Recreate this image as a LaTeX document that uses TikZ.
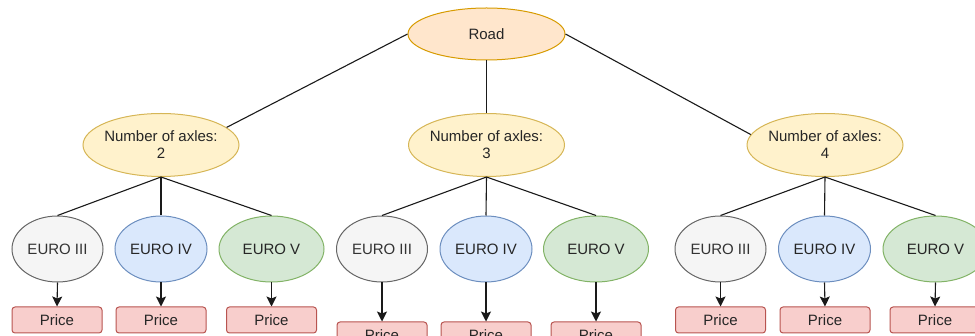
\documentclass[tikz,border=0pt]{standalone}
\usepackage{fontspec}
\setmainfont{Liberation Sans}
\usetikzlibrary{shapes.geometric,arrows.meta}
\definecolor{roadfill}{HTML}{FFE6CC}
\definecolor{roaddraw}{HTML}{D79B00}
\definecolor{axfill}{HTML}{FFF2CC}
\definecolor{axdraw}{HTML}{D6B656}
\definecolor{gfill}{HTML}{F5F5F5}
\definecolor{gdraw}{HTML}{666666}
\definecolor{gtext}{HTML}{333333}
\definecolor{bfill}{HTML}{DAE8FC}
\definecolor{bdraw}{HTML}{6C8EBF}
\definecolor{grfill}{HTML}{D5E8D4}
\definecolor{grdraw}{HTML}{82B366}
\definecolor{pfill}{HTML}{F8CECC}
\definecolor{pdraw}{HTML}{B85450}
\definecolor{edge}{HTML}{1A1A1A}
\tikzset{
  base/.style={font=\fontsize{15}{17}\selectfont, text=black!85, inner sep=0pt, line width=1pt},
  roadnode/.style={base, ellipse, draw=roaddraw, fill=roadfill, minimum width=157pt, minimum height=52pt},
  axle/.style={base, ellipse, draw=axdraw, fill=axfill, minimum width=156pt, minimum height=63pt},
  euroiii/.style={base, ellipse, draw=gdraw, fill=gfill, text=gtext, minimum width=91pt, minimum height=66pt},
  euroiv/.style={base, ellipse, draw=bdraw, fill=bfill, minimum width=92pt, minimum height=66pt},
  eurov/.style={base, ellipse, draw=grdraw, fill=grfill, minimum width=105pt, minimum height=66pt},
  price/.style={base, rectangle, rounded corners=3pt, draw=pdraw, fill=pfill, minimum width=90pt, minimum height=26pt},
  link/.style={draw=edge, line width=1.1pt},
  arr/.style={link, -{Stealth[length=10pt,width=10pt,inset=2pt]}}
}
\begin{document}
\begin{tikzpicture}[x=1pt,y=-1pt]
\useasboundingbox (0,0) rectangle (975,336);
\clip (0,0) rectangle (975,336);
% top
\node[roadnode] (road) at (486.5,34) {Road};
\node[axle, label={[base,align=center]center:{Number of axles:\\2}}] (ax2) at (161,145) {};
\node[axle, label={[base,align=center]center:{Number of axles:\\3}}] (ax3) at (486.5,145) {};
\node[axle, label={[base,align=center]center:{Number of axles:\\4}}] (ax4) at (825,145) {};
\draw[link] (road.west) -- (ax2.15);
\draw[link] (road.south) -- (ax3.north);
\draw[link] (road.east) -- (ax4.172);
% group 1
\node[euroiii] (e21) at (57.5,249) {EURO III};
\node[euroiv] (e22) at (161,249) {EURO IV};
\node[eurov] (e23) at (271.5,249) {EURO V};
\node[price] (p21) at (57,320) {Price};
\node[price] (p22) at (161,320) {Price};
\node[price] (p23) at (271.5,320) {Price};
% group 2
\node[euroiii] (e31) at (382,249) {EURO III};
\node[euroiv] (e32) at (486,249) {EURO IV};
\node[eurov] (e33) at (596,249) {EURO V};
\node[price] (p31) at (382,335) {Price};
\node[price] (p32) at (486,335) {Price};
\node[price] (p33) at (596,335) {Price};
% group 3
\node[euroiii] (e41) at (720.5,249) {EURO III};
\node[euroiv] (e42) at (824.5,249) {EURO IV};
\node[eurov] (e43) at (935.5,249) {EURO V};
\node[price] (p41) at (720.5,320) {Price};
\node[price] (p42) at (825,320) {Price};
\node[price] (p43) at (935,320) {Price};
\foreach \g in {2,3,4}{
  \foreach \i in {1,2,3}{
    \draw[link] (ax\g.south) -- (e\g\i.north);
    \draw[arr] (e\g\i.south) -- (p\g\i.north);
  }
}
\end{tikzpicture}
\end{document}
